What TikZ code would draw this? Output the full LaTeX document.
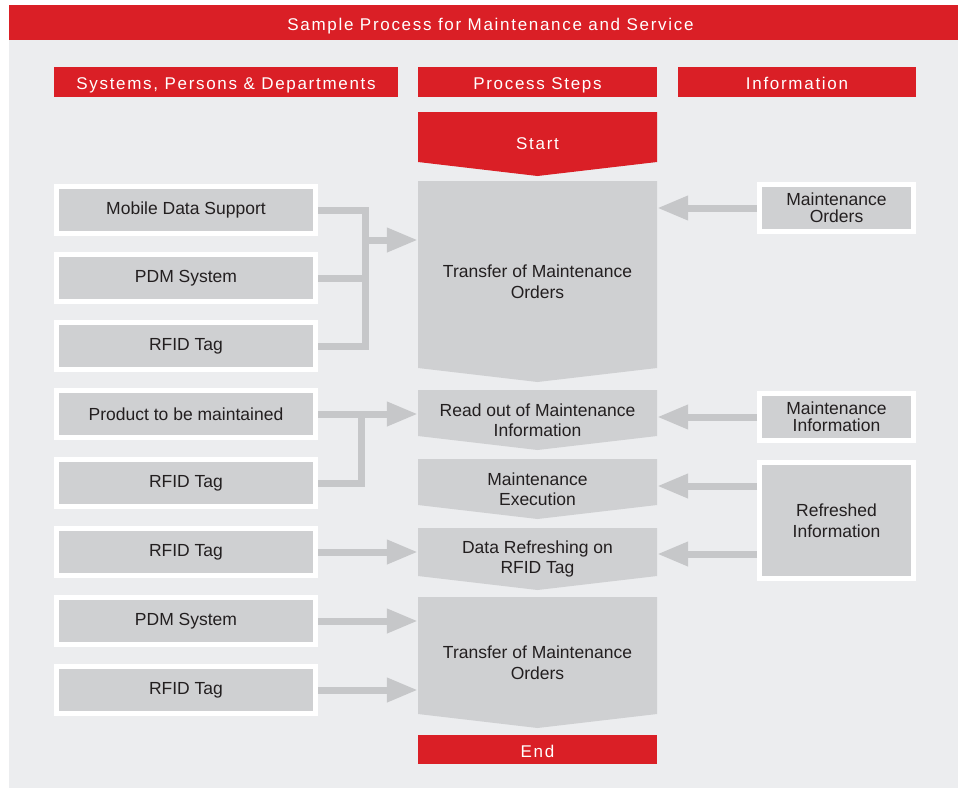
\documentclass[tikz,border=0pt]{standalone}
\usepackage{fontspec}
\setmainfont{Liberation Sans}
\newfontfamily\headfont[LetterSpace=10]{Liberation Sans}
\usetikzlibrary{arrows.meta,positioning,calc}

\definecolor{barred}{HTML}{DA1F26}
\definecolor{panelgray}{HTML}{ECEDEF}
\definecolor{boxgray}{HTML}{CFD0D2}
\definecolor{linkgray}{HTML}{C6C7C9}
\definecolor{textdark}{HTML}{231F20}

\begin{document}
\begin{tikzpicture}[
  x=1pt, y=-1pt,
  every node/.style={font=\fontsize{17.5}{20.5}\selectfont, text=textdark, inner sep=0pt, align=center},
  head/.style={rectangle, fill=barred, text=white, font=\headfont\fontsize{17}{19}\selectfont, text height=15pt, text depth=0pt, minimum height=30pt},
  sysbox/.style={rectangle, fill=boxgray, draw=white, line width=5pt, minimum width=259pt, minimum height=47pt},
  infobox/.style={rectangle, fill=boxgray, draw=white, line width=5pt, minimum width=154pt, minimum height=#1},
  chevfill/.style={fill=panelgray, path picture={
    \fill[#1] (path picture bounding box.north west) -- (path picture bounding box.north east)
      -- ([yshift=14pt]path picture bounding box.south east) -- (path picture bounding box.south)
      -- ([yshift=14pt]path picture bounding box.south west) -- cycle;}},
  stepbox/.style={rectangle, chevfill=boxgray, minimum width=239pt, minimum height=#1},
  startbox/.style={rectangle, chevfill=barred, text=white, font=\headfont\fontsize{17}{19}\selectfont, minimum width=239pt, minimum height=64pt},
  link/.style={draw=linkgray, line width=7pt},
  flow/.style={link, -{Triangle[length=31pt, width=23pt]}}
]
  \useasboundingbox (0,0) rectangle (958,787);
  \fill[white] (0,0) rectangle (958,787);
  \fill[panelgray] (9,40) rectangle (972,790);

  % headings
  \node[head, minimum width=963pt, minimum height=35pt] (title) at (490.5,22.5) {Sample Process for Maintenance and Service};
  \node[head, minimum width=344pt] (hsys) at (226,82) {Systems, Persons \& Departments};
  \node[head, minimum width=239pt] (hstep) at (537.5,82) {Process Steps};
  \node[head, minimum width=238pt] (hinfo) at (797,82) {Information};

  % process steps
  \node[startbox] (start) at (537.5,144) {Start};
  \node[stepbox=201pt] (trans1) at (537.5,281.5) {Transfer of Maintenance\\Orders};
  \node[stepbox=60pt] (readout) at (537.5,420) {Read out of Maintenance\\Information};
  \node[stepbox=60pt] (exec) at (537.5,489) {Maintenance\\Execution};
  \node[stepbox=62pt] (refresh) at (537.5,559) {Data Refreshing on\\RFID Tag};
  \node[stepbox=131pt] (trans2) at (537.5,662.5) {Transfer of Maintenance\\Orders};
  \node[head, minimum width=239pt, minimum height=29pt] (end) at (537.5,749.5) {End};

  % systems, persons & departments
  \node[sysbox] (mobile) at (186,210) {Mobile Data Support};
  \node[sysbox] (pdm1) at (186,278) {PDM System};
  \node[sysbox] (rfid1) at (186,346) {RFID Tag};
  \node[sysbox] (product) at (186,414) {Product to be maintained};
  \node[sysbox] (rfid2) at (186,483) {RFID Tag};
  \node[sysbox] (rfid3) at (186,552) {RFID Tag};
  \node[sysbox] (pdm2) at (186,621) {PDM System};
  \node[sysbox] (rfid4) at (186,690) {RFID Tag};

  % information
  \node[infobox=47pt, font=\fontsize{17.5}{17}\selectfont] (orders) at (836.5,208) {Maintenance\\Orders};
  \node[infobox=47pt, font=\fontsize{17.5}{17}\selectfont] (maintinfo) at (836.5,417) {Maintenance\\Information};
  \node[infobox=116pt] (refreshed) at (836.5,520.5) {Refreshed\\Information};

  \coordinate (join1) at (365,240);
  \coordinate (join2) at (361,414);
  \coordinate (rin1) at ([yshift=34.5pt]refreshed.west);
  \coordinate (rin2) at ([yshift=-33.5pt]refreshed.west);

  \draw[link] (mobile.east) -| (join1 |- rfid1.east) -- (rfid1.east);
  \draw[link] (pdm1.east) -- (pdm1.east -| join1);
  \draw[flow] (join1) -- (join1 -| trans1.west);
  \draw[flow] (product.east) -- (product.east -| readout.west);
  \draw[link] (rfid2.east) -| (join2);
  \draw[flow] (rfid3.east) -- (rfid3.east -| refresh.west);
  \draw[flow] (pdm2.east) -- (pdm2.east -| trans2.west);
  \draw[flow] (rfid4.east) -- (rfid4.east -| trans2.west);

  \draw[flow] (orders.west) -- (orders.west -| trans1.east);
  \draw[flow] (maintinfo.west) -- (maintinfo.west -| readout.east);
  \draw[flow] (rin1) -- (rin1 -| exec.east);
  \draw[flow] (rin2) -- (rin2 -| refresh.east);
\end{tikzpicture}
\end{document}
